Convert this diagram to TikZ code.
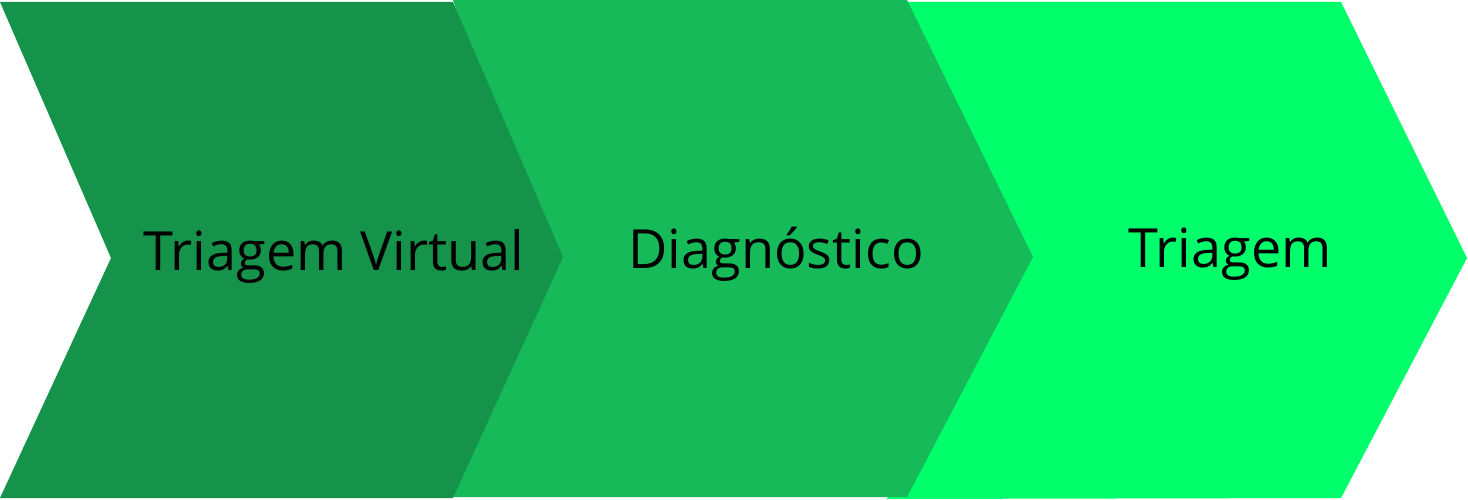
\documentclass[tikz,border=0pt]{standalone}
\usepackage{fontspec}
\setmainfont{Open Sans}
\definecolor{cdark}{RGB}{21,147,74}
\definecolor{cmid}{RGB}{23,186,89}
\definecolor{cbright}{RGB}{0,255,106}
\tikzset{
  lbl/.style={anchor=base, inner sep=0pt, font=\fontsize{54}{60}\selectfont, text=black}
}
\begin{document}
\begin{tikzpicture}[x=1pt,y=-1pt]
\useasboundingbox (0,0) rectangle (1468,500);
\fill[cbright] (907,2) -- (1341,2) -- (1467,258) -- (1341,498) -- (887,499) -- (1000,258) -- cycle;
\fill[cmid] (453,0) -- (907,0) -- (1033,257) -- (907,497) -- (453,497) -- (540,257) -- cycle;
\fill[cdark] (0,2) -- (453,2) -- (563,257) -- (453,498) -- (0,498) -- (111,258) -- cycle;
\node[lbl] (t1) at (334,270) {Triagem Virtual};
\node[lbl] (t2) at (776,268) {Diagnóstico};
\node[lbl] (t3) at (1230,267) {Triagem};
\end{tikzpicture}
\end{document}
